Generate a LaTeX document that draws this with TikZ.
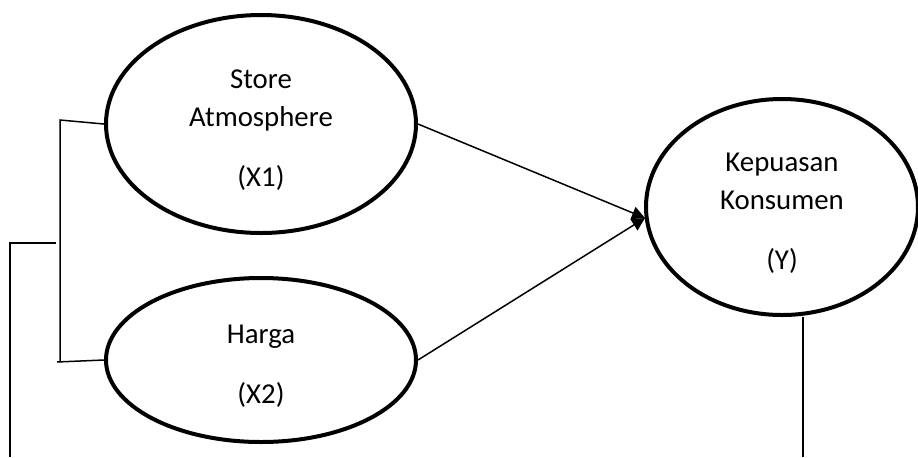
\documentclass[tikz,border=0pt]{standalone}
\usepackage{fontspec}
\setmainfont{Carlito}
\usetikzlibrary{shapes.geometric,arrows.meta}

\newcommand{\toppad}{\rule{0pt}{15.5pt}}

\begin{document}
\begin{tikzpicture}[x=0.5pt,y=-0.5pt,
  var/.style={draw,ellipse,line width=2pt,inner sep=0pt,align=center,
    font=\fontsize{14.4}{19}\selectfont},
  link/.style={line width=0.75pt},
  path/.style={link,-{Triangle[length=6.5pt,width=6.5pt]}}]
  \useasboundingbox (0,0) rectangle (918,457);
  \node (X1) at (261,124) [var,minimum width=155pt,minimum height=109pt] {\toppad Store\\Atmosphere\\[11pt](X1)};
  \node (X2) at (261,360) [var,minimum width=155pt,minimum height=82pt] {\toppad Harga\\[11pt](X2)};
  \node (Y) at (782,207) [var,minimum width=136pt,minimum height=108pt] {\toppad Kepuasan\\Konsumen\\[11pt](Y)};
  \coordinate (tip) at (645,218);
  \coordinate (brktop) at (60,120);
  \coordinate (brkbot) at (57,362);
  \coordinate (midin) at (56,243);
  \coordinate (midout) at (10,243);
  \coordinate (leftend) at (10,457);
  \coordinate (yend) at (803,457);
  \draw[path] (X1.east) to (tip);
  \draw[path] (X2.east) to (tip);
  \draw[link] (X1.west) -- (brktop) -- (brktop |- brkbot);
  \draw[link] (brkbot) -- (X2.west);
  \draw[link] (midin) -- (midout) -- (leftend);
  \draw[link] (yend |- Y.south) -- (yend);
\end{tikzpicture}
\end{document}
